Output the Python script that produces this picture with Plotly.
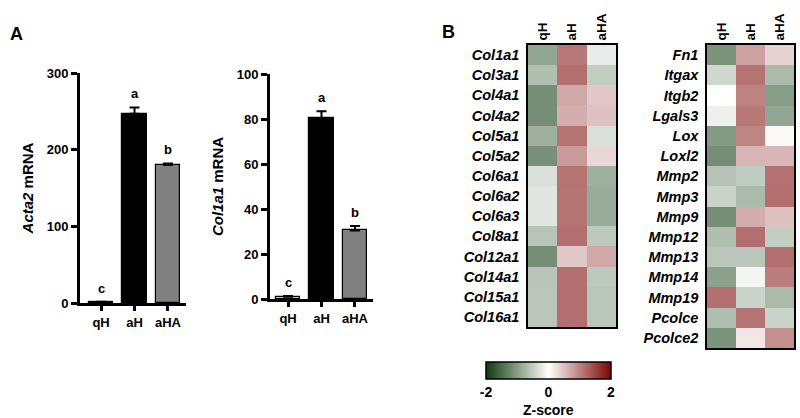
import plotly.graph_objects as go

# ---------------- data ----------------
groups = ["qH", "aH", "aHA"]
acta2_mean = [1, 247, 180]
acta2_err = [0.5, 8, 2]
acta2_letters = ["c", "a", "b"]
col1a1_mean = [1, 80.5, 30.5]
col1a1_err = [0.3, 3, 2]
col1a1_letters = ["c", "a", "b"]

genes_left = ["Col1a1", "Col3a1", "Col4a1", "Col4a2", "Col5a1", "Col5a2", "Col6a1",
              "Col6a2", "Col6a3", "Col8a1", "Col12a1", "Col14a1", "Col15a1", "Col16a1"]
z_left = [
    [-0.90, 1.08, -0.18],
    [-0.65, 1.15, -0.50],
    [-1.15, 0.70, 0.45],
    [-1.15, 0.65, 0.50],
    [-0.80, 1.12, -0.32],
    [-1.13, 0.80, 0.33],
    [-0.32, 1.12, -0.80],
    [-0.25, 1.10, -0.85],
    [-0.25, 1.10, -0.85],
    [-0.60, 1.15, -0.55],
    [-1.15, 0.45, 0.70],
    [-0.60, 1.15, -0.55],
    [-0.58, 1.155, -0.58],
    [-0.58, 1.155, -0.58],
]
genes_right = ["Fn1", "Itgax", "Itgb2", "Lgals3", "Lox", "Loxl2", "Mmp2", "Mmp3", "Mmp9",
               "Mmp12", "Mmp13", "Mmp14", "Mmp19", "Pcolce", "Pcolce2"]
z_right = [
    [-1.10, 0.75, 0.35],
    [-0.40, 1.12, -0.70],
    [0.00, 1.00, -1.00],
    [-0.15, 1.07, -0.90],
    [-1.03, 0.98, 0.05],
    [-1.155, 0.58, 0.58],
    [-0.62, -0.52, 1.14],
    [-0.45, -0.70, 1.15],
    [-1.15, 0.65, 0.50],
    [-0.65, 1.15, -0.50],
    [-0.58, -0.58, 1.155],
    [-0.95, -0.10, 1.05],
    [1.15, -0.45, -0.70],
    [-0.65, 1.12, -0.45],
    [-1.10, 0.20, 0.90],
]
z_ticks = [-2, 0, 2]

# ---------------- style ----------------
FONT = "Liberation Sans, Arial, sans-serif"
W, H = 800, 418
def px_x(p): return p / W
def px_y(p): return 1 - p / H

colorscale = [[0, "#0f3a0f"], [0.5, "#ffffff"], [1, "#7b0505"]]
bar_colors = ["white", "black", "#808080"]

fig = go.Figure()

# Bar charts
for i, (means, errs, letters) in enumerate([(acta2_mean, acta2_err, acta2_letters),
                                             (col1a1_mean, col1a1_err, col1a1_letters)]):
    ax = "" if i == 0 else "2"
    fig.add_trace(go.Bar(
        x=groups, y=means, width=0.72,
        marker=dict(color=bar_colors, line=dict(color="black", width=1.2)),
        error_y=dict(type="data", array=errs, arrayminus=[0] * 3, symmetric=False,
                     color="black", thickness=2, width=5),
        xaxis="x" + ax, yaxis="y" + ax, showlegend=False, hoverinfo="skip"))
    for g, m, e, l in zip(groups, means, errs, letters):
        fig.add_annotation(x=g, y=m + e, text=f"<b>{l}</b>", showarrow=False,
                           xref="x" + ax, yref="y" + ax, yanchor="bottom", yshift=4,
                           font=dict(family=FONT, size=13, color="black"))

# Heatmaps
fig.add_trace(go.Heatmap(
    x=groups, y=genes_left, z=z_left, zmin=-2, zmax=2, colorscale=colorscale,
    xaxis="x3", yaxis="y3", xgap=0, ygap=0, hoverinfo="skip",
    colorbar=dict(orientation="h", x=px_x(548.5), xanchor="center", len=125 / W,
                  lenmode="fraction", y=px_y(362), yanchor="top", ypad=0, xpad=0,
                  thickness=17, outlinewidth=1.5, outlinecolor="black",
                  tickvals=z_ticks, ticktext=[str(t) for t in z_ticks], ticks="", ticklen=0,
                  tickfont=dict(family=FONT, size=14, color="black", weight="bold"))))
fig.add_trace(go.Heatmap(
    x=groups, y=genes_right, z=z_right, zmin=-2, zmax=2, colorscale=colorscale,
    xaxis="x4", yaxis="y4", showscale=False, hoverinfo="skip"))

tick_font = dict(family=FONT, size=13, color="black", weight="bold")
row_font = dict(family=FONT, size=14.5, color="black", weight="bold", style="italic")

bar_x = dict(showline=True, linecolor="black", linewidth=3, ticks="outside", ticklen=5,
             tickwidth=3, tickcolor="black", tickfont=tick_font, showgrid=False,
             zeroline=False, fixedrange=True, automargin=False)
bar_y = dict(showline=True, linecolor="black", linewidth=3, ticks="outside", ticklen=6,
             tickwidth=3, tickcolor="black", tickfont=tick_font, showgrid=False,
             zeroline=False, automargin=False)

heat_x = dict(side="top", tickangle=-90, ticks="", showline=True, mirror=True,
              linecolor="black", linewidth=1.5,
              tickfont=dict(family=FONT, size=13.5, color="black", weight="bold"),
              showgrid=False, zeroline=False, automargin=False)
heat_y = dict(autorange="reversed", ticks="", showline=True, mirror=True,
              linecolor="black", linewidth=1.5, tickfont=row_font, showgrid=False,
              zeroline=False, ticklabelstandoff=4, automargin=False)

fig.update_layout(
    width=W, height=H, margin=dict(l=0, r=0, t=0, b=0, autoexpand=False), autosize=False,
    plot_bgcolor="white", paper_bgcolor="white", bargap=0,
    font=dict(family=FONT, color="black"),
    xaxis=dict(domain=[px_x(80), px_x(186)], range=[-0.63, 2.54], anchor="y", **bar_x),
    yaxis=dict(domain=[px_y(303), px_y(73)], range=[0, 300], tickvals=[0, 100, 200, 300],
               anchor="x", title=dict(text="<b><i>Acta2</i> mRNA</b>", standoff=10,
                                      font=dict(family=FONT, size=15, color="black")), **bar_y),
    xaxis2=dict(domain=[px_x(270), px_x(373)], range=[-0.54, 2.54], anchor="y2", **bar_x),
    yaxis2=dict(domain=[px_y(299), px_y(74)], range=[0, 100], tickvals=[0, 20, 40, 60, 80, 100],
                anchor="x2", title=dict(text="<b><i>Col1a1</i> mRNA</b>", standoff=10,
                                        font=dict(family=FONT, size=15, color="black")), **bar_y),
    xaxis3=dict(domain=[px_x(528), px_x(616)], anchor="y3", **heat_x),
    yaxis3=dict(domain=[px_y(327), px_y(45)], anchor="x3", **heat_y),
    xaxis4=dict(domain=[px_x(707), px_x(794)], anchor="y4", **heat_x),
    yaxis4=dict(domain=[px_y(348), px_y(45)], anchor="x4", **heat_y),
)

fig.add_annotation(x=px_x(8), y=px_y(22), xref="paper", yref="paper", text="<b>A</b>",
                   showarrow=False, xanchor="left", yanchor="top",
                   font=dict(family=FONT, size=18, color="black"))
fig.add_annotation(x=px_x(440), y=px_y(20), xref="paper", yref="paper", text="<b>B</b>",
                   showarrow=False, xanchor="left", yanchor="top",
                   font=dict(family=FONT, size=18, color="black"))
fig.add_annotation(x=px_x(548.5), y=px_y(418), xref="paper", yref="paper",
                   text="<b>Z-score</b>", showarrow=False, xanchor="center", yanchor="bottom",
                   yshift=-2, font=dict(family=FONT, size=14, color="black"))

fig.write_html("out.html", config={"displayModeBar": False},
               post_script="document.body.style.margin='0';")
